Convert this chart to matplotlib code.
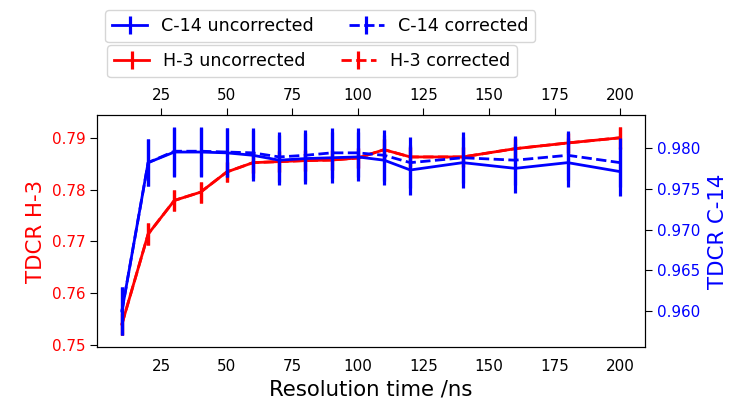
import matplotlib
matplotlib.use("Agg")
import matplotlib.pyplot as plt

# resolution time (ns)
res_time = [10, 20, 30, 40, 50, 60, 70, 80, 90, 100, 110, 120, 140, 160, 180, 200]

# H-3 TDCR
h3_uncorr = [0.7540, 0.7714, 0.7779, 0.7795, 0.7834, 0.7852, 0.7854, 0.7856,
             0.7857, 0.7861, 0.7877, 0.7863, 0.7863, 0.7879, 0.7890, 0.7900]
h3_corr = [0.7540, 0.7714, 0.7779, 0.7795, 0.7834, 0.7852, 0.7854, 0.7856,
           0.7857, 0.7861, 0.7877, 0.7863, 0.7863, 0.7879, 0.7890, 0.7900]
h3_err = [0.0021, 0.0021, 0.0021, 0.0020, 0.0020, 0.0020, 0.0020, 0.0020,
          0.0020, 0.0020, 0.0020, 0.0020, 0.0020, 0.0020, 0.0020, 0.0021]

# C-14 TDCR
c14_uncorr = [0.9600, 0.9782, 0.9795, 0.9795, 0.9794, 0.9791, 0.9785, 0.9787,
              0.9788, 0.9789, 0.9785, 0.9773, 0.9782, 0.9775, 0.9782, 0.9771]
c14_corr = [0.9600, 0.9782, 0.9796, 0.9796, 0.9795, 0.9794, 0.9789, 0.9791,
            0.9794, 0.9794, 0.9791, 0.9782, 0.9788, 0.9785, 0.9791, 0.9782]
c14_err = [0.0029, 0.0029, 0.0030, 0.0030, 0.0030, 0.0031, 0.0031, 0.0031,
           0.0031, 0.0030, 0.0031, 0.0031, 0.0031, 0.0030, 0.0030, 0.0030]

TICK = 10.9
LABEL = 15.3
LEG = 12.6
LW = 2.0
ELW = 2.3

fig = plt.figure(figsize=(7.33, 4.07), dpi=100)
ax1 = fig.add_axes([97 / 733, 1 - 347 / 407, (645 - 97) / 733, (347 - 115) / 407])
ax2 = ax1.twinx()

h1 = ax1.errorbar(res_time, h3_uncorr, yerr=h3_err, color='r', lw=LW, elinewidth=ELW,
                  label='H-3 uncorrected')
h2 = ax1.errorbar(res_time, h3_corr, yerr=h3_err, color='r', lw=LW, elinewidth=ELW,
                  ls='--', label='H-3 corrected')
c1 = ax2.errorbar(res_time, c14_uncorr, yerr=c14_err, color='b', lw=LW, elinewidth=ELW,
                  label='C-14 uncorrected')
c2 = ax2.errorbar(res_time, c14_corr, yerr=c14_err, color='b', lw=LW, elinewidth=ELW,
                  ls='--', label='C-14 corrected')

ax1.set_ylim(0.7496, 0.7944)
ax2.set_ylim(0.9556, 0.98404)
ax1.set_yticks([0.75, 0.76, 0.77, 0.78, 0.79])
ax2.set_yticks([0.960, 0.965, 0.970, 0.975, 0.980])
ax1.set_yticklabels(['0.75', '0.76', '0.77', '0.78', '0.79'])
ax2.set_yticklabels(['0.960', '0.965', '0.970', '0.975', '0.980'])
ax1.set_xticks([25, 50, 75, 100, 125, 150, 175, 200])

ax1.tick_params(axis='x', bottom=False, top=True, labelbottom=True, labeltop=True,
                labelsize=TICK, length=4.8)
ax1.tick_params(axis='y', labelsize=TICK, labelcolor='r', length=4.8)
ax2.tick_params(axis='y', labelsize=TICK, labelcolor='b', length=4.8)

ax1.set_xlabel('Resolution time /ns', fontsize=LABEL)
ax1.set_ylabel('TDCR H-3', fontsize=LABEL, color='r')
ax2.set_ylabel('TDCR C-14', fontsize=LABEL, color='b', labelpad=6)

leg1 = fig.legend(handles=[c1, c2], ncol=2, fontsize=LEG, loc='lower left',
                  bbox_to_anchor=(105 / 733, 1 - 42 / 407), borderaxespad=0)
leg2 = fig.legend(handles=[h1, h2], ncol=2, fontsize=LEG, loc='lower left',
                  bbox_to_anchor=(107 / 733, 1 - 77 / 407), borderaxespad=0)

fig.savefig('out.png', dpi=100)
